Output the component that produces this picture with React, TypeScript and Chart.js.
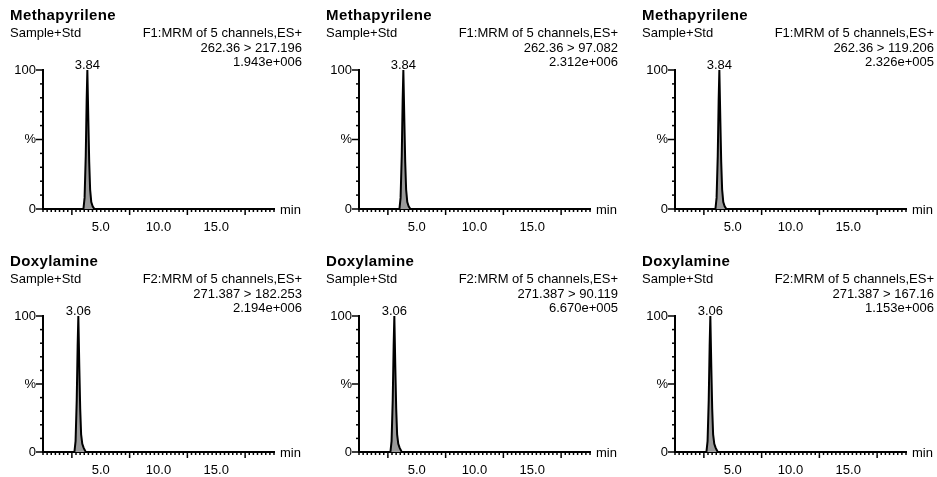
import React, { useEffect, useRef } from 'react';
import { Chart, registerables } from 'chart.js';

Chart.register(...registerables);

const FONT = "'Liberation Sans', Arial, Helvetica, sans-serif";

// header text of each panel (row by row)
const compounds = ['Methapyrilene', 'Methapyrilene', 'Methapyrilene', 'Doxylamine', 'Doxylamine', 'Doxylamine'];
const sampleNames = ['Sample+Std', 'Sample+Std', 'Sample+Std', 'Sample+Std', 'Sample+Std', 'Sample+Std'];
const functionNames = [
  'F1:MRM of 5 channels,ES+',
  'F1:MRM of 5 channels,ES+',
  'F1:MRM of 5 channels,ES+',
  'F2:MRM of 5 channels,ES+',
  'F2:MRM of 5 channels,ES+',
  'F2:MRM of 5 channels,ES+',
];
const transitions = ['262.36 > 217.196', '262.36 > 97.082', '262.36 > 119.206', '271.387 > 182.253', '271.387 > 90.119', '271.387 > 167.16'];
const peakHeights = ['1.943e+006', '2.312e+006', '2.326e+005', '2.194e+006', '6.670e+005', '1.153e+006'];
const peakLabels = ['3.84', '3.84', '3.84', '3.06', '3.06', '3.06'];

// traces: retention time (min) vs relative intensity (%)
const methapyrileneTimes = [0, 3.5, 3.6, 3.7, 3.78, 3.84, 3.92, 4.0, 4.08, 4.18, 4.3, 4.45, 20];
const methapyrileneSignal = [0, 0, 8, 38, 78, 100, 66, 34, 14, 5, 2, 0, 0];
const doxylamineTimes = [0, 2.72, 2.82, 2.92, 3.0, 3.06, 3.14, 3.22, 3.3, 3.4, 3.52, 3.7, 20];
const doxylamineSignal = [0, 0, 8, 38, 78, 100, 64, 32, 13, 6, 3, 0, 0];

// axis labels
const xLabelValues = [5, 10, 15];
const xTickLabels = ['5.0', '10.0', '15.0'];
const yLabelValues = [0, 50, 100];
const yTickLabels = ['0', '%', '100'];

const PANEL_W = 316;
const PANEL_H = 231;
const colLeft = [1, 317, 633];
const rowTop = [0, 246];
const plotBottom = [209, 206];

// draws the Masslynx style tick marks, the apex label and the "min" unit
const marksPlugin = {
  id: 'marks',
  afterDraw(chart: any, _args: any, opts: any) {
    const { ctx, chartArea, scales } = chart;
    const x = scales.x;
    const y = scales.y;
    ctx.save();
    ctx.strokeStyle = '#000';
    ctx.lineWidth = 1.5;

    y.ticks.forEach((t: any) => {
      const py = y.getPixelForValue(t.value);
      const len = t.value % 50 === 0 ? 7 : 3;
      ctx.beginPath();
      ctx.moveTo(chartArea.left - len, py);
      ctx.lineTo(chartArea.left, py);
      ctx.stroke();
    });

    const vals = x.ticks.map((t: any) => t.value);
    const tick = (v: number, len: number) => {
      const px = x.getPixelForValue(v);
      ctx.beginPath();
      ctx.moveTo(px, chartArea.bottom);
      ctx.lineTo(px, chartArea.bottom + len);
      ctx.stroke();
    };
    vals.forEach((v: number, i: number) => {
      const odd = Math.round(v / 2.5) % 2 === 1;
      tick(v, odd ? 6 : 3);
      if (i < vals.length - 1) {
        for (let k = 1; k < 7; k++) tick(v + ((vals[i + 1] - v) * k) / 7, 3);
      }
    });

    ctx.fillStyle = '#000';
    ctx.font = `13px ${FONT}`;
    const data = chart.data.datasets[0].data;
    let apex = data[0];
    data.forEach((p: any) => {
      if (p.y > apex.y) apex = p;
    });
    ctx.textAlign = 'center';
    ctx.textBaseline = 'alphabetic';
    ctx.fillText(opts.label, x.getPixelForValue(apex.x), y.getPixelForValue(apex.y) - 1);

    ctx.textAlign = 'left';
    ctx.textBaseline = 'middle';
    ctx.fillText('min', chartArea.right + 6, chartArea.bottom + 1);
    ctx.restore();
  },
};

function Chromatogram({ index }: { index: number }) {
  const canvasRef = useRef<HTMLCanvasElement>(null);
  const row = Math.floor(index / 3);
  const col = index % 3;
  const isMeth = index < 3;
  const times = isMeth ? methapyrileneTimes : doxylamineTimes;
  const signal = isMeth ? methapyrileneSignal : doxylamineSignal;

  useEffect(() => {
    if (!canvasRef.current) return;
    const chart = new Chart(canvasRef.current, {
      type: 'line',
      data: {
        datasets: [
          {
            data: times.map((t, i) => ({ x: t, y: signal[i] })),
            borderColor: '#000',
            borderWidth: 2,
            backgroundColor: '#9a9a9a',
            fill: 'origin',
            pointRadius: 0,
            tension: 0,
            clip: false,
          },
        ],
      },
      options: {
        animation: false,
        responsive: false,
        events: [],
        layout: { padding: { left: 0, top: 70, right: 43, bottom: PANEL_H - 22 - plotBottom[row] } },
        plugins: {
          legend: { display: false },
          tooltip: { enabled: false },
          marks: { label: peakLabels[index] },
        } as any,
        scales: {
          x: {
            type: 'linear',
            min: 0,
            max: 20,
            afterFit: (s: any) => {
              s.height = 22;
            },
            border: { display: true, color: '#000', width: 2 },
            grid: { display: false, drawTicks: false },
            ticks: {
              stepSize: 2.5,
              autoSkip: false,
              maxRotation: 0,
              padding: 11,
              color: '#000',
              font: { size: 13, family: FONT },
              callback: (v: any) => {
                const k = xLabelValues.indexOf(Number(v));
                return k >= 0 ? xTickLabels[k] : '';
              },
            },
          },
          y: {
            min: 0,
            max: 100,
            afterFit: (s: any) => {
              s.width = 42;
            },
            border: { display: true, color: '#000', width: 2 },
            grid: { display: false, drawTicks: false },
            ticks: {
              stepSize: 10,
              autoSkip: false,
              padding: 7,
              color: '#000',
              font: { size: 13, family: FONT },
              callback: (v: any) => {
                const k = yLabelValues.indexOf(Number(v));
                return k >= 0 ? yTickLabels[k] : '';
              },
            },
          },
        },
      },
      plugins: [marksPlugin],
    });
    return () => chart.destroy();
  }, [index]);

  return (
    <div
      style={{
        position: 'absolute',
        left: colLeft[col],
        top: rowTop[row],
        width: PANEL_W,
        height: PANEL_H,
        fontFamily: FONT,
        color: '#000',
      }}
    >
      <canvas ref={canvasRef} width={PANEL_W} height={PANEL_H} style={{ position: 'absolute', left: 0, top: 0 }} />
      <div style={{ position: 'absolute', left: 9, top: 6, fontSize: 15, fontWeight: 'bold', lineHeight: '18px', letterSpacing: 0.4 }}>
        {compounds[index]}
      </div>
      <div style={{ position: 'absolute', left: 9, top: 26, fontSize: 13, lineHeight: '14.5px' }}>{sampleNames[index]}</div>
      <div style={{ position: 'absolute', right: 15, top: 26, fontSize: 13, lineHeight: '14.5px', textAlign: 'right', whiteSpace: 'nowrap' }}>
        <div>{functionNames[index]}</div>
        <div>{transitions[index]}</div>
        <div>{peakHeights[index]}</div>
      </div>
    </div>
  );
}

export default function App() {
  return (
    <div
      style={{
        position: 'absolute',
        left: 0,
        top: 0,
        width: 937,
        height: 477,
        overflow: 'hidden',
        background: '#fff',
      }}
    >
      {compounds.map((_, i) => (
        <Chromatogram key={i} index={i} />
      ))}
    </div>
  );
}
